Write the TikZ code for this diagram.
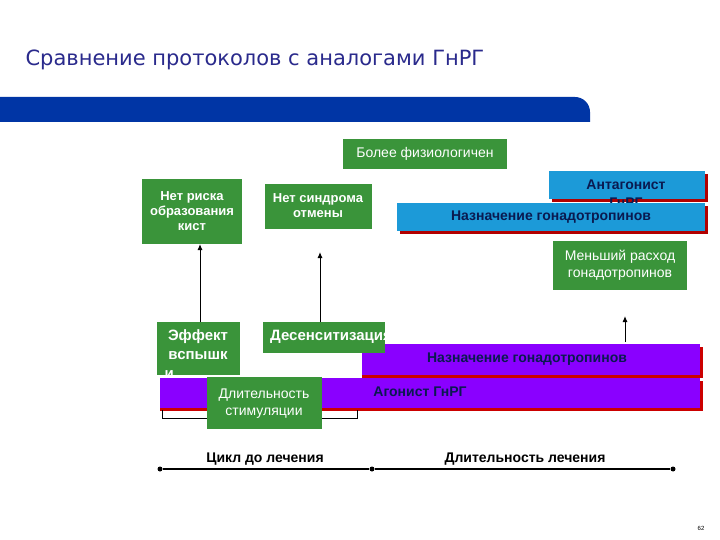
\documentclass[tikz,border=0pt]{standalone}
\usepackage{fontspec}
\setmainfont{Liberation Sans}
\newfontfamily\titlefont{DejaVu Sans}
\usetikzlibrary{arrows.meta}
\definecolor{gr}{HTML}{3A943A}
\definecolor{cy}{HTML}{1C9AD8}
\definecolor{pu}{HTML}{8A00FF}
\definecolor{navy}{HTML}{0A1A50}
\definecolor{bar}{HTML}{0035A5}
\definecolor{ttl}{HTML}{2A2A8C}
\tikzset{
  gbox/.style={fill=gr,draw=none},
  wtxt/.style={text=white,font=\fontsize{13}{15}\selectfont\bfseries,align=center,inner sep=0},
  wtxtn/.style={text=white,font=\fontsize{14}{17}\selectfont,align=center,inner sep=0},
  dtxt/.style={text=navy,font=\fontsize{14}{16}\selectfont\bfseries,inner sep=0},
  arr/.style={-{Latex[length=6pt,width=5pt]},line width=1pt},
  dot/.style={circle,fill=black,inner sep=0,minimum size=5pt}
}
\begin{document}
\begin{tikzpicture}[x=1pt,y=-1pt]
\useasboundingbox[fill=white] (0,0) rectangle (720,540);
\node[anchor=west,text=ttl,font=\titlefont\fontsize{21}{24}\selectfont] (title) at (22,60) {Сравнение протоколов с аналогами ГнРГ};
\fill[bar] (0,97) -- (575,97) to[out=0,in=90] (590,112) -- (590,122) -- (0,122) -- cycle;
% top green clipped
\fill[gr] (343,139) rectangle (507,169);
\begin{scope}\clip (343,139) rectangle (507,169);
\node[wtxtn] (fiz) at (425,154) {Более физиологичен};
\end{scope}
\fill[gr] (142,179) rectangle (242,244);
\begin{scope}\clip (142,179) rectangle (242,244);
\node[wtxt] (kist) at (192,211) {Нет риска\\образования\\кист};
\end{scope}
\fill[gr] (265,184) rectangle (372,229);
\begin{scope}\clip (265,184) rectangle (372,229);
\node[wtxt] (otm) at (318,206) {Нет синдрома\\отмены};
\end{scope}
% antagonist
\fill[red!70!black] (552,174) rectangle (708,202);
\fill[cy] (549,171) rectangle (705,199);
\node[dtxt] (ant) at (626,185) {Антагонист};
\node[dtxt] (antg) at (626,203) {ГнРГ};
\fill[red!70!black] (400,206) rectangle (708,234);
\fill[cy] (397,203) rectangle (705,231);
\node[dtxt] (naz1) at (551,217) {Назначение гонадотропинов};
\fill[gr] (553,241) rectangle (687,290);
\begin{scope}\clip (553,241) rectangle (687,290);
\node[wtxtn] (rash) at (620,265) {Меньший расход\\гонадотропинов};
\end{scope}
% purple bars
\fill[red!80!black] (362,347) rectangle (703,378);
\fill[pu] (362,344) rectangle (700,375);
\node[dtxt] (naz2) at (527,359) {Назначение гонадотропинов};
\fill[red!80!black] (160,381) rectangle (703,411);
\fill[pu] (160,378) rectangle (700,408);
\node[dtxt] (agon) at (420,392) {Агонист ГнРГ};
% green lower
\fill[gr] (157,322) rectangle (240,375);
\node[wtxt,font=\fontsize{15}{19}\selectfont\bfseries] (vsp) at (198,354) {Эффект\\вспышк\\и\hphantom{эффект}};
\fill[gr] (263,322) rectangle (385,353);
\begin{scope}\clip (263,322) rectangle (385,353);
\node[wtxt,font=\fontsize{15}{18}\selectfont\bfseries,anchor=west] (des) at (270,337) {Десенситизация};
\end{scope}
\fill[gr] (207,377) rectangle (322,429);
\node[wtxtn] (stim) at (264,404) {Длительность\\стимуляции};
% arrows
\coordinate (a1) at (200,322);
\coordinate (a2) at (320,322);
\coordinate (a3) at (625,342);
\draw[arr] (a1) -- (200,244);
\draw[arr] (a2) -- (320,252);
\draw[arr] (a3) -- (625,316);
% bracket
\coordinate (b1) at (162,410);
\coordinate (b2) at (357,410);
\draw[line width=0.8pt] (b1) -- (162,418) -- (207,418) (322,418) -- (357,418) -- (b2);
% timeline
\node[dot] (t1) at (160,469) {};
\node[dot] (t2) at (372,469) {};
\node[dot] (t3) at (673,469) {};
\draw[line width=1.5pt] (t1) -- (t2) -- (t3);
\node[font=\fontsize{14}{16}\selectfont\bfseries] (l1) at (265,459) {Цикл до лечения};
\node[font=\fontsize{14}{16}\selectfont\bfseries] (l2) at (525,459) {Длительность лечения};
\node[font=\fontsize{6}{7}\selectfont] (pg) at (701,528) {62};
\end{tikzpicture}
\end{document}
